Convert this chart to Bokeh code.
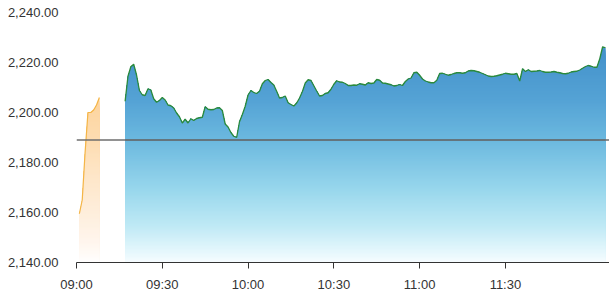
import numpy as np
import pandas as pd
from bokeh.plotting import figure
from bokeh.models import Range1d, FixedTicker, NumeralTickFormatter, DatetimeTickFormatter, Span
from bokeh.embed import file_html
from bokeh.resources import INLINE

# ---------------- data ----------------
session_date = "2024-01-01"
x_start = "09:00"
x_end = "12:06:24"
x_ticks = ["09:00", "09:30", "10:00", "10:30", "11:00", "11:30"]
y_ticks = [2140, 2160, 2180, 2200, 2220, 2240]
ref_value = 2189.0

# pre-open auction (orange), one value per minute from 09:01
pre_start = "09:01"
pre_values = [2159.5, 2165.0, 2184.0, 2200.0, 2200.0, 2201.0, 2203.0, 2206.0]

# continuous trading (green), one value per minute from 09:17
main_start = "09:17"
main_values = [
    2204.5, 2214.5, 2218.3, 2219.3, 2215.0, 2208.8, 2207.1, 2206.8, 2209.5, 2209.0,
    2205.5, 2204.1, 2204.8, 2206.0, 2205.0, 2203.0, 2202.7, 2201.8, 2199.8, 2198.3,
    2195.8, 2197.3, 2195.8, 2197.5, 2196.8, 2197.6, 2197.9, 2198.1, 2202.3, 2201.3,
    2201.1, 2201.2, 2201.8, 2201.9, 2200.8, 2195.4, 2194.2, 2192.0, 2190.5, 2190.0,
    2196.3, 2199.2, 2202.5, 2207.0, 2208.8, 2208.0, 2207.6, 2208.5, 2211.5, 2212.8,
    2213.2, 2212.0, 2211.0, 2208.5, 2205.8, 2206.0, 2206.6, 2203.9, 2203.2, 2202.6,
    2203.8, 2205.8, 2208.4, 2211.8, 2213.1, 2212.8, 2210.7, 2208.6, 2206.6, 2206.8,
    2207.6, 2207.9, 2209.3, 2211.3, 2212.7, 2212.2, 2212.1, 2211.6, 2210.8, 2210.8,
    2211.0, 2210.9, 2211.5, 2211.3, 2211.0, 2211.9, 2211.6, 2211.8, 2213.2, 2212.9,
    2211.8, 2211.7, 2211.4, 2211.1, 2210.6, 2210.8, 2211.2, 2210.8, 2212.4, 2213.4,
    2213.8, 2215.9, 2216.1, 2214.9, 2213.4, 2212.6, 2212.2, 2211.9, 2211.9, 2212.9,
    2215.6, 2215.7, 2215.3, 2214.9, 2215.2, 2215.6, 2215.9, 2215.9, 2215.7, 2215.9,
    2216.6, 2216.8, 2216.7, 2216.4, 2216.1, 2215.6, 2215.1, 2214.6, 2214.4, 2214.5,
    2214.7, 2215.0, 2215.3, 2215.7, 2215.5, 2215.3, 2215.3, 2215.6, 2212.6, 2217.5,
    2216.4, 2217.1, 2216.4, 2216.5, 2216.6, 2216.8, 2216.4, 2216.1, 2216.1, 2216.2,
    2216.4, 2216.1, 2215.9, 2215.6, 2215.5, 2215.7, 2216.2, 2216.4, 2216.5, 2217.0,
    2217.7, 2218.4, 2218.8, 2218.5, 2218.1, 2218.1, 2221.5, 2226.3, 2225.9,
]

blue_stops = [(2140, "#f8fdff"), (2145, "#e4f7fc"), (2155, "#bfe9f5"), (2170, "#97d6ec"),
              (2189, "#6cb9df"), (2205, "#55a3d5"), (2227, "#4290ca")]
orange_stops = [(2140, "#ffffff"), (2148, "#fff6ee"), (2160, "#feeedc"), (2175, "#fee6c8"),
                (2190, "#fddcb0"), (2207, "#fdd39c")]


def ts(hm):
    return pd.Timestamp(f"{session_date} {hm}")


def minute_index(start, n):
    return pd.date_range(ts(start), periods=n, freq="1min")


def grad_color(stops, v):
    vals = [s[0] for s in stops]
    rgbs = [tuple(int(s[1][i:i + 2], 16) for i in (1, 3, 5)) for s in stops]
    out = []
    for c in range(3):
        out.append(int(round(np.interp(v, vals, [r[c] for r in rgbs]))))
    return "#%02x%02x%02x" % tuple(out)


def gradient_area(p, x, y, stops, base, step=0.8):
    y = np.asarray(y, dtype=float)
    top = y.max()
    levels = np.arange(base + step, top + step, step)
    for h in levels[::-1]:
        p.varea(x=x, y1=np.full(len(y), base), y2=np.minimum(y, h),
                fill_color=grad_color(stops, h), fill_alpha=1.0)


pre_x = minute_index(pre_start, len(pre_values))
main_x = minute_index(main_start, len(main_values))

p = figure(width=609, height=298, output_backend="svg", toolbar_location=None,
           x_axis_type="datetime",
           x_range=Range1d(ts(x_start), ts(x_end)),
           y_range=Range1d(y_ticks[0], y_ticks[-1]),
           min_border_left=76, min_border_right=0, min_border_top=12, min_border_bottom=36)
p.outline_line_color = None
p.grid.visible = False
p.background_fill_color = "white"
p.border_fill_color = "white"

gradient_area(p, pre_x, pre_values, orange_stops, y_ticks[0])
gradient_area(p, main_x, main_values, blue_stops, y_ticks[0])

# reference (previous close) line
p.add_layout(Span(location=ref_value, dimension="width", line_color="#6e6e6e", line_width=1.6))
p.segment(x0=[main_x[0]], y0=[ref_value], x1=[main_x[-1]], y1=[ref_value],
          line_color="#3f7e9a", line_width=1.6)

p.line(pre_x, pre_values, line_color="#f4b546", line_width=1.2)
p.line(main_x, main_values, line_color="#2b8a3c", line_width=1.3)

# axes
font = "Liberation Sans"
xa = p.xaxis[0]
xa.ticker = FixedTicker(ticks=[ts(t).value // 10**6 for t in x_ticks])
xa.formatter = DatetimeTickFormatter(minutes="%H:%M", hours="%H:%M", hourmin="%H:%M",
                                     minsec="%H:%M", days="%H:%M")
xa.axis_line_color = "#333333"
xa.major_tick_line_color = "#333333"
xa.major_tick_out = 6
xa.major_tick_in = 0
xa.minor_tick_line_color = None
xa.major_label_text_font = font
xa.major_label_text_font_size = "13px"
xa.major_label_text_color = "#333333"
xa.major_label_standoff = 8

ya = p.yaxis[0]
ya.ticker = FixedTicker(ticks=y_ticks)
ya.formatter = NumeralTickFormatter(format="0,0.00")
ya.axis_line_color = None
ya.major_tick_line_color = None
ya.minor_tick_line_color = None
ya.major_tick_out = 0
ya.major_label_text_font = font
ya.major_label_text_font_size = "13px"
ya.major_label_text_color = "#333333"
ya.major_label_standoff = 18

open("out.html", "w").write(file_html(p, INLINE))
